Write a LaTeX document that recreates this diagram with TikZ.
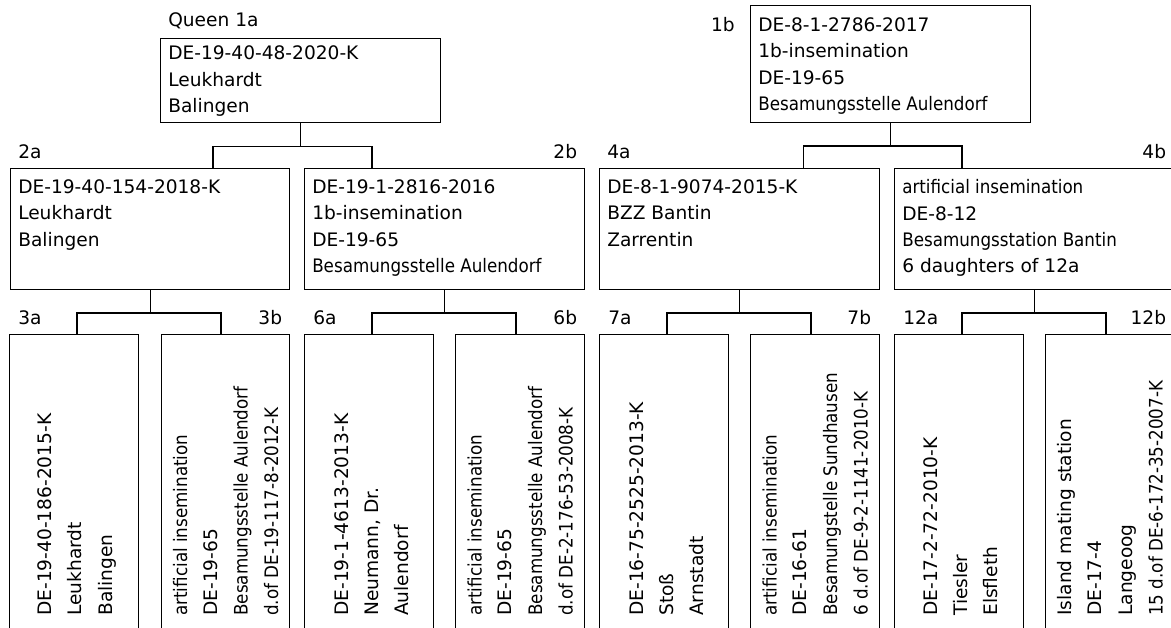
\documentclass[tikz,border=0pt]{standalone}
\usepackage{fontspec}
\setmainfont{DejaVu Sans}
\newfontfamily\narrowfont{DejaVu Sans Condensed}
\usetikzlibrary{positioning}

\tikzset{
  famblock/.style={draw, line width=1pt, inner sep=0pt, anchor=north west,
    minimum width=210pt, minimum height=90.75pt},
  leafblock/.style={famblock, minimum width=96.75pt, minimum height=240pt},
  info/.style={inner sep=0pt, align=left, font=\fontsize{13.95}{19.7}\selectfont},
  vinfo/.style={anchor=west, inner sep=0pt, align=left, rotate=90,
    font=\fontsize{13.95}{22.7}\selectfont},
  tag/.style={inner sep=0pt, font=\fontsize{13.95}{16}\selectfont},
  lnk/.style={line width=1pt}
}

\begin{document}
\begin{tikzpicture}[x=0.75pt, y=-0.75pt]
\useasboundingbox (0,0) rectangle (1171,628);
\clip (0,0) rectangle (1171,628);

% parents
\node[famblock, minimum height=63pt] (b1a) at (160,38) {};
\node[famblock, minimum height=87.4pt] (b1b) at (750,5) {};
\node[info, below right=5.9pt and 6pt of b1a.north west] (t1a)
  {DE-19-40-48-2020-K\\Leukhardt\\Balingen};
\node[info, below right=9.4pt and 6pt of b1b.north west] (t1b)
  {DE-8-1-2786-2017\\1b-insemination\\DE-19-65\\{\narrowfont Besamungsstelle Aulendorf}};
\node[tag, above right=6.9pt and 6pt of b1a.north west] (l1a) {Queen 1a};
\node[tag, anchor=east] (l1b) at ([xshift=-11.25pt, yshift=-14.5pt]b1b.north west) {1b};

% second row
\node[famblock, minimum width=209.25pt] (b2a) at (10,168) {};
\node[famblock] (b2b) at (304,168) {};
\node[famblock] (b4a) at (599,168) {};
\node[famblock] (b4b) at (894,168) {};
\node[info, below right=8.6pt and 6pt of b2a.north west] (t2a)
  {DE-19-40-154-2018-K\\Leukhardt\\Balingen};
\node[info, below right=8.6pt and 6pt of b2b.north west] (t2b)
  {DE-19-1-2816-2016\\1b-insemination\\DE-19-65\\{\narrowfont Besamungsstelle Aulendorf}};
\node[info, below right=8.6pt and 6pt of b4a.north west] (t4a)
  {DE-8-1-9074-2015-K\\BZZ Bantin\\Zarrentin};
\node[info, below right=8.6pt and 6pt of b4b.north west] (t4b)
  {{\narrowfont artificial insemination}\\DE-8-12\\{\narrowfont Besamungsstation Bantin}\\6 daughters of 12a};
\node[tag, above right=6.9pt and 6pt of b2a.north west] (l2a) {2a};
\node[tag, above left=6.9pt and 6pt of b2b.north east] (l2b) {2b};
\node[tag, above right=6.9pt and 6pt of b4a.north west] (l4a) {4a};
\node[tag, above left=6.9pt and 6.75pt of b4b.north east] (l4b) {4b};

% third row
\node[leafblock] (b3a) at (9,334) {};
\node[leafblock, minimum width=96pt] (b3b) at (161,334) {};
\node[leafblock] (b6a) at (304,334) {};
\node[leafblock] (b6b) at (455,334) {};
\node[leafblock] (b7a) at (599,334) {};
\node[leafblock] (b7b) at (750,334) {};
\node[leafblock] (b12a) at (894,334) {};
\node[leafblock] (b12b) at (1045,334) {};
\node[vinfo] (t3a) at ([xshift=2pt, yshift=-211.5pt]b3a.north)
  {DE-19-40-186-2015-K\\Leukhardt\\Balingen};
\node[vinfo] (t3b) at ([yshift=-211.5pt]b3b.north)
  {{\narrowfont artificial insemination}\\DE-19-65\\{\narrowfont Besamungsstelle Aulendorf}\\{\narrowfont d.of DE-19-117-8-2012-K}};
\node[vinfo] (t6a) at ([xshift=2pt, yshift=-211.5pt]b6a.north)
  {DE-19-1-4613-2013-K\\Neumann, Dr.\\Aulendorf};
\node[vinfo] (t6b) at ([yshift=-211.5pt]b6b.north)
  {{\narrowfont artificial insemination}\\DE-19-65\\{\narrowfont Besamungsstelle Aulendorf}\\{\narrowfont d.of DE-2-176-53-2008-K}};
\node[vinfo] (t7a) at ([xshift=2pt, yshift=-211.5pt]b7a.north)
  {DE-16-75-2525-2013-K\\Stoß\\Arnstadt};
\node[vinfo] (t7b) at ([yshift=-211.5pt]b7b.north)
  {{\narrowfont artificial insemination}\\DE-16-61\\{\narrowfont Besamungstelle Sundhausen}\\{\narrowfont 6 d.of DE-9-2-1141-2010-K}};
\node[vinfo] (t12a) at ([xshift=1pt, yshift=-211.5pt]b12a.north)
  {DE-17-2-72-2010-K\\Tiesler\\Elsfleth};
\node[vinfo] (t12b) at ([yshift=-211.5pt]b12b.north)
  {Island mating station\\DE-17-4\\Langeoog\\{\narrowfont 15 d.of DE-6-172-35-2007-K}};
\node[tag, above right=6.9pt and 6.75pt of b3a.north west] (l3a) {3a};
\node[tag, above left=6.9pt and 6pt of b3b.north east] (l3b) {3b};
\node[tag, above right=6.9pt and 6.75pt of b6a.north west] (l6a) {6a};
\node[tag, above left=6.9pt and 6pt of b6b.north east] (l6b) {6b};
\node[tag, above right=6.9pt and 6.75pt of b7a.north west] (l7a) {7a};
\node[tag, above left=6.9pt and 6.75pt of b7b.north east] (l7b) {7b};
\node[tag, above right=6.9pt and 6.75pt of b12a.north west] (l12a) {12a};
\node[tag, above left=6.9pt and 6.75pt of b12b.north east] (l12b) {12b};

% connectors
\coordinate (k1a) at ([yshift=-17.25pt]b1a.south);
\coordinate (k1b) at ([yshift=-17.25pt]b1b.south);
\coordinate (k2a) at ([yshift=-17pt]b2a.south);
\coordinate (k2b) at ([yshift=-17pt]b2b.south);
\coordinate (k4a) at ([yshift=-17pt]b4a.south);
\coordinate (k4b) at ([yshift=-17pt]b4b.south);
\coordinate (d2a) at (213,168);
\coordinate (d2b) at (372,168);
\coordinate (d4a) at (803.5,168);
\coordinate (d4b) at (962,168);
\coordinate (d3a) at (77,334);
\coordinate (d3b) at (221,334);
\coordinate (d6a) at (372,334);
\coordinate (d6b) at (516,334);
\coordinate (d7a) at (667,334);
\coordinate (d7b) at (811,334);
\coordinate (d12a) at (962,334);
\coordinate (d12b) at (1106,334);

\draw[lnk] (b1a.south) -- (k1a);
\draw[lnk] (d2a) |- (k1a) -| (d2b);
\draw[lnk] (b1b.south) -- (k1b);
\draw[lnk] (d4a) |- (k1b) -| (d4b);
\draw[lnk] (b2a.south) -- (k2a);
\draw[lnk] (d3a) |- (k2a) -| (d3b);
\draw[lnk] (b2b.south) -- (k2b);
\draw[lnk] (d6a) |- (k2b) -| (d6b);
\draw[lnk] (b4a.south) -- (k4a);
\draw[lnk] (d7a) |- (k4a) -| (d7b);
\draw[lnk] (b4b.south) -- (k4b);
\draw[lnk] (d12a) |- (k4b) -| (d12b);
\end{tikzpicture}
\end{document}
